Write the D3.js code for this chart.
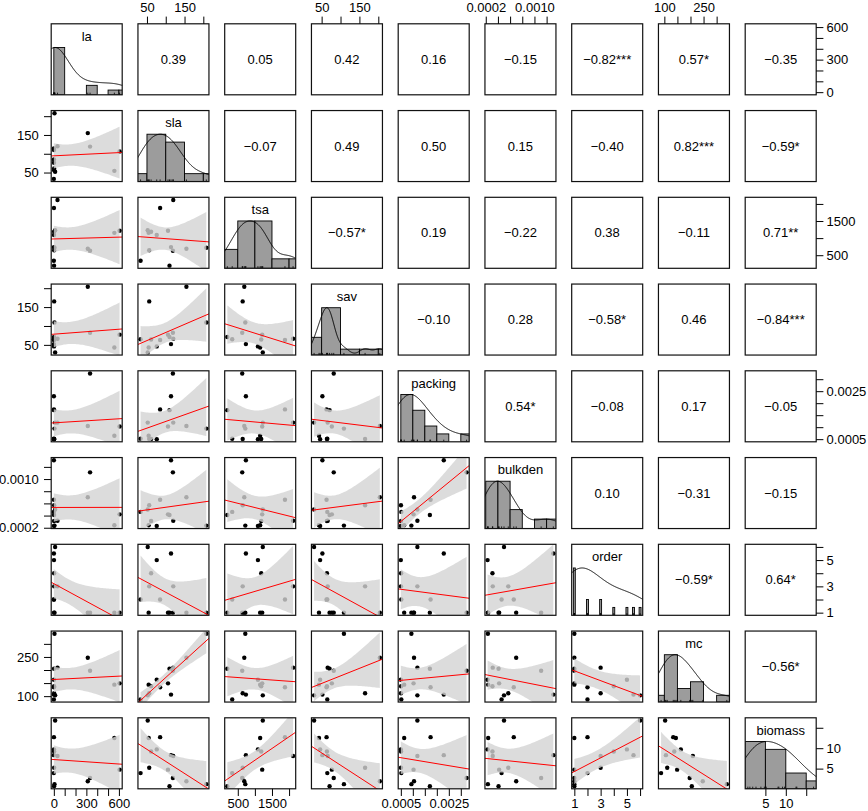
<!DOCTYPE html>
<html><head><meta charset="utf-8">
<script src="https://cdn.jsdelivr.net/npm/d3@7"></script>
<style>
body{margin:0;background:#fff}
svg{display:block}
text{font-family:"Liberation Sans",Arial,Helvetica,sans-serif;fill:#000}
</style>
</head><body>
<svg id="c" width="868" height="811"></svg>
<script>
// ---- data (14 observations) ----
const varNames = ["la","sla","tsa","sav","packing","bulkden","order","mc","biomass"];
const la      = [313, 334, 558, 606, 6, 2, 1, 0, 34, 3, 2.5, 1.5, 0.5, 12];
const sla     = [155, 119, 54.5, 106, 208, 110, 85, 33, 120, 56, 61, 76, 114, 52];
const tsa     = [690, 630, 1154, 1214, 720, 194, 1880, 337, 2117, 643, 1186, 1089, 737, 1231];
const sav     = [204, 82, 43, 77, 109, 71, 63, 65, 66, 165, 64, 46, 52, 30];
const packing = [0.00105, 0.00324, 0.00064, 0.00103, 0.00094, 0.00171, 0.00174, 0.00052, 0.00119, 0.000505, 0.00051, 0.00050, 0.00229, 0.00119];
const bulkden = [0.00070, 0.00111, 0.00024, 0.00042, 0.000235, 0.00041, 0.00066, 0.00046, 0.000315, 0.00057, 0.00031, 0.00023, 0.00131, 0.00050];
const order   = [1, 1, 1, 1, 1, 1, 2, 2, 3, 3, 4, 5, 5.5, 6];
const mc      = [247, 197, 144, 149, 339, 205, 134, 87.5, 209, 111, 138, 163, 106, 103];
const biomass = [1.9, 2.7, 12.5, 4.75, 1.2, 0.7, 12.7, 3.9, 8.1, 5.2, 9.2, 9.7, 8.3, 16.8];

// correlation labels, upper triangle, row by row
const corRow0 = ["0.39","0.05","0.42","0.16","\u22120.15","\u22120.82***","0.57*","\u22120.35"];
const corRow1 = ["\u22120.07","0.49","0.50","0.15","\u22120.40","0.82***","\u22120.59*"];
const corRow2 = ["\u22120.57*","0.19","\u22120.22","0.38","\u22120.11","0.71**"];
const corRow3 = ["\u22120.10","0.28","\u22120.58*","0.46","\u22120.84***"];
const corRow4 = ["0.54*","\u22120.08","0.17","\u22120.05"];
const corRow5 = ["0.10","\u22120.31","\u22120.15"];
const corRow6 = ["\u22120.59*","0.64*"];
const corRow7 = ["\u22120.56*"];

// histogram breaks
const laBreaks      = [0,100,200,300,400,500,600,700];
const slaBreaks     = [0,50,100,150,200,250];
const tsaBreaks     = [0,500,1000,1500,2000,2500];
const savBreaks     = [0,50,100,150,200,250];
const packingBreaks = [0.0005,0.0010,0.0015,0.0020,0.0025,0.0030,0.0035];
const bulkdenBreaks = [0.0002,0.0004,0.0006,0.0008,0.0010,0.0012,0.0014];
const orderBreaks   = [];
const mcBreaks      = [50,100,150,200,250,300,350];
const biomassBreaks = [0,5,10,15,20];

// axis ticks and labelled ticks
const laTicks = [0,100,200,300,400,500,600],            laLabels = [0,300,600];
const slaTicks = [50,100,150,200],                      slaLabels = [50,150];
const tsaTicks = [500,1000,1500,2000],                  tsaLabels = [500,1500];
const savTicks = [50,100,150,200],                      savLabels = [50,150];
const packingTicks = [0.0005,0.0010,0.0015,0.0020,0.0025,0.0030], packingLabels = [0.0005,0.0025];
const bulkdenTicks = [0.0002,0.0004,0.0006,0.0008,0.0010,0.0012], bulkdenLabels = [0.0002,0.0010];
const orderTicks = [1,2,3,4,5,6],                       orderLabels = [1,3,5];
const mcTicks = [100,150,200,250,300],                  mcLabels = [100,250];
const biomassTicks = [5,10,15],                         biomassLabels = [5,10];

// ---- assemble ----
const data = {la, sla, tsa, sav, packing, bulkden, order, mc, biomass};
const corRows = [corRow0,corRow1,corRow2,corRow3,corRow4,corRow5,corRow6,corRow7];
const breaks = {la:laBreaks, sla:slaBreaks, tsa:tsaBreaks, sav:savBreaks, packing:packingBreaks,
  bulkden:bulkdenBreaks, order:orderBreaks, mc:mcBreaks, biomass:biomassBreaks};
const ticks = {la:laTicks, sla:slaTicks, tsa:tsaTicks, sav:savTicks, packing:packingTicks,
  bulkden:bulkdenTicks, order:orderTicks, mc:mcTicks, biomass:biomassTicks};
const labels = {la:laLabels, sla:slaLabels, tsa:tsaLabels, sav:savLabels, packing:packingLabels,
  bulkden:bulkdenLabels, order:orderLabels, mc:mcLabels, biomass:biomassLabels};
const fmt4 = d3.format(".4f");
const fmtTick = v => (v === "packing" || v === "bulkden") ? fmt4 : d3.format("d");

const nv = varNames.length, n = la.length;
const X0 = 51.2, Y0 = 23.8, STEP = 86.75, S = 71;
const FS = 13;

const svg = d3.select("#c");
const defs = svg.append("defs");

const sx = {}, sy = {};
varNames.forEach((v, k) => {
  const ext = d3.extent(data[v]);
  const r = ext[1] - ext[0];
  const dom = [ext[0] - 0.04 * r, ext[1] + 0.04 * r];
  sx[v] = d3.scaleLinear().domain(dom).range([X0 + k * STEP, X0 + k * STEP + S]);
  sy[v] = d3.scaleLinear().domain(dom).range([Y0 + k * STEP + S, Y0 + k * STEP]);
});

function density(x) {
  const s = x.slice().sort(d3.ascending);
  const sd = d3.deviation(x);
  const iqr = d3.quantileSorted(s, 0.75) - d3.quantileSorted(s, 0.25);
  const bw = 1.06 * Math.min(sd, iqr / 1.34) * Math.pow(x.length, -0.2) * 1.2;
  const lo = s[0] - 3 * bw, hi = s[s.length - 1] + 3 * bw;
  const pts = d3.range(512).map(k => {
    const g = lo + (hi - lo) * k / 511;
    return [g, d3.sum(x, xi => Math.exp(-0.5 * ((g - xi) / bw) ** 2))];
  });
  const m = d3.max(pts, p => p[1]);
  pts.forEach(p => p[1] /= m);
  return pts;
}

function histCounts(x, br) {
  const c = new Array(br.length - 1).fill(0);
  x.forEach(v => {
    for (let k = 0; k < br.length - 1; k++) {
      if ((v > br[k] || (k === 0 && v >= br[k])) && v <= br[k + 1]) { c[k]++; break; }
    }
  });
  return c;
}

function lmFit(x, y) {
  const mx = d3.mean(x), my = d3.mean(y);
  let sxx = 0, sxy = 0;
  x.forEach((xi, k) => { sxx += (xi - mx) ** 2; sxy += (xi - mx) * (y[k] - my); });
  const b = sxy / sxx, a = my - b * mx;
  const rss = d3.sum(x, (xi, k) => (y[k] - a - b * xi) ** 2);
  const s = Math.sqrt(rss / (x.length - 2));
  return {a, b, s, mx, sxx};
}
const tcrit = 2.178813; // qt(0.975, 12)

for (let i = 0; i < nv; i++) {
  for (let j = 0; j < nv; j++) {
    const L = X0 + j * STEP, T = Y0 + i * STEP;
    const id = `clip${i}_${j}`;
    defs.append("clipPath").attr("id", id).append("rect")
      .attr("x", L).attr("y", T).attr("width", S).attr("height", S);
    const g = svg.append("g");
    const gc = g.append("g").attr("clip-path", `url(#${id})`);
    const vx = varNames[j], vy = varNames[i];

    if (i === j) {
      const x = data[vx], X = sx[vx];
      const yh = v => T + S - (v / 1.5) * S;
      const uniq = Array.from(new Set(x)).sort(d3.ascending);
      if (uniq.length < 11) {
        const tab = uniq.map(u => x.filter(v => v === u).length);
        const mxT = d3.max(tab);
        const ib = d3.min(d3.pairs(uniq), p => p[1] - p[0]) * (uniq.length - 1) / 41;
        gc.selectAll("rect.bar").data(uniq).join("rect").attr("class", "bar")
          .attr("x", u => X(u - ib)).attr("width", u => X(u + ib) - X(u - ib))
          .attr("y", (u, k) => yh(tab[k] / mxT)).attr("height", (u, k) => T + S - yh(tab[k] / mxT))
          .attr("fill", "#9c9c9c").attr("stroke", "#000").attr("stroke-width", 0.9);
      } else {
        const br = breaks[vx];
        const c = histCounts(x, br), mxC = d3.max(c);
        gc.selectAll("rect.bar").data(c).join("rect").attr("class", "bar")
          .attr("x", (d, k) => X(br[k])).attr("width", (d, k) => X(br[k + 1]) - X(br[k]))
          .attr("y", d => yh(d / mxC)).attr("height", d => T + S - yh(d / mxC))
          .attr("fill", "#9c9c9c").attr("stroke", "#000").attr("stroke-width", 0.9);
      }
      const dens = density(x);
      gc.append("path").attr("d", d3.line().x(p => X(p[0])).y(p => yh(p[1]))(dens))
        .attr("fill", "none").attr("stroke", "#000").attr("stroke-width", 1);
      // rug
      gc.selectAll("line.rug").data(x).join("line").attr("class", "rug")
        .attr("x1", d => X(d)).attr("x2", d => X(d)).attr("y1", T + S).attr("y2", T + S - 0.03 * S)
        .attr("stroke", "#000").attr("stroke-width", 0.8);
      g.append("text").attr("x", L + S / 2).attr("y", T + 16.8).attr("text-anchor", "middle")
        .attr("font-size", FS).text(vx);
    } else if (i < j) {
      g.append("text").attr("x", L + S / 2).attr("y", T + S / 2 + 4.6).attr("text-anchor", "middle")
        .attr("font-size", FS).text(corRows[i][j - i - 1]);
    } else {
      const x = data[vx], y = data[vy], X = sx[vx], Y = sy[vy];
      gc.selectAll("circle").data(d3.range(n)).join("circle")
        .attr("cx", k => X(x[k])).attr("cy", k => Y(y[k])).attr("r", 2.2).attr("fill", "#000");
      const f = lmFit(x, y);
      const ext = d3.extent(x);
      const xs = d3.range(47).map(k => ext[0] + (ext[1] - ext[0]) * k / 46);
      const band = xs.map(x0 => {
        const fit = f.a + f.b * x0;
        const se = f.s * Math.sqrt(1 / n + (x0 - f.mx) ** 2 / f.sxx);
        return [x0, fit - tcrit * se, fit + tcrit * se];
      });
      gc.append("path")
        .attr("d", d3.area().x(p => X(p[0])).y0(p => Y(p[1])).y1(p => Y(p[2]))(band))
        .attr("fill", "rgba(211,211,211,0.8)").attr("stroke", "none");
      const dom = X.domain();
      gc.append("line").attr("x1", X(dom[0])).attr("x2", X(dom[1]))
        .attr("y1", Y(f.a + f.b * dom[0])).attr("y2", Y(f.a + f.b * dom[1]))
        .attr("stroke", "#ff0000").attr("stroke-width", 1);
    }
    g.append("rect").attr("x", L).attr("y", T).attr("width", S).attr("height", S)
      .attr("fill", "none").attr("stroke", "#111").attr("stroke-width", 1.2);

    // axes
    const styleAxis = (ax) => {
      ax.select(".domain").remove();
      ax.selectAll(".tick line").attr("stroke", "#000").attr("stroke-width", 1);
      ax.selectAll(".tick text").attr("font-size", FS).attr("fill", "#000")
        .attr("font-family", '"Liberation Sans",Arial,Helvetica,sans-serif');
    };
    const fmtX = d => labels[vx].includes(d) ? fmtTick(vx)(d) : "";
    const fmtY = d => labels[vy].includes(d) ? fmtTick(vy)(d) : "";
    if (i === 0 && j % 2 === 1) {
      const ax = svg.append("g").attr("transform", `translate(0,${T})`)
        .call(d3.axisTop(sx[vx]).tickValues(ticks[vx]).tickSize(7.2).tickPadding(4.6).tickFormat(fmtX));
      styleAxis(ax);
    }
    if (i === nv - 1 && j % 2 === 0) {
      const ax = svg.append("g").attr("transform", `translate(0,${T + S})`)
        .call(d3.axisBottom(sx[vx]).tickValues(ticks[vx]).tickSize(7.2).tickPadding(3.2).tickFormat(fmtX));
      styleAxis(ax);
    }
    if (j === 0 && i % 2 === 1) {
      const ax = svg.append("g").attr("transform", `translate(${L},0)`)
        .call(d3.axisLeft(sy[vy]).tickValues(ticks[vy]).tickSize(7.2).tickPadding(5.3).tickFormat(fmtY));
      styleAxis(ax);
    }
    if (j === nv - 1 && i % 2 === 0) {
      const ax = svg.append("g").attr("transform", `translate(${L + S},0)`)
        .call(d3.axisRight(sy[vy]).tickValues(ticks[vy]).tickSize(7.2).tickPadding(3.2).tickFormat(fmtY));
      styleAxis(ax);
    }
  }
}
</script>
</body></html>
